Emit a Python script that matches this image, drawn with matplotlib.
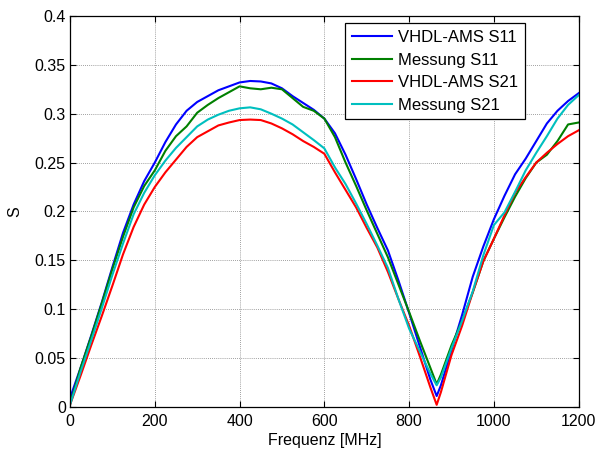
import matplotlib
matplotlib.use("Agg")
import matplotlib.pyplot as plt

plt.rcParams["font.family"] = ["Liberation Sans", "DejaVu Sans"]

# Frequency points in MHz
freq = [0, 25, 50, 75, 100, 125, 150, 175, 200, 225, 250, 275, 300, 325, 350,
        375, 400, 425, 450, 475, 500, 525, 550, 575, 600, 625, 650, 675, 700,
        725, 750, 775, 800, 825, 850, 865, 875, 900, 925, 950, 975, 1000,
        1025, 1050, 1075, 1100, 1125, 1150, 1175, 1200]

vhdl_s11 = [0.009, 0.040, 0.073, 0.107, 0.143, 0.178, 0.207, 0.231, 0.250,
            0.271, 0.289, 0.303, 0.312, 0.318, 0.324, 0.328, 0.332, 0.3335,
            0.333, 0.331, 0.326, 0.318, 0.311, 0.304, 0.295, 0.280, 0.258,
            0.233, 0.207, 0.183, 0.160, 0.129, 0.096, 0.062, 0.028, 0.011,
            0.022, 0.058, 0.094, 0.133, 0.164, 0.192, 0.216, 0.238, 0.254,
            0.272, 0.290, 0.303, 0.313, 0.321]

mess_s11 = [0.003, 0.040, 0.072, 0.106, 0.141, 0.174, 0.204, 0.226, 0.242,
            0.262, 0.277, 0.287, 0.301, 0.309, 0.316, 0.322, 0.328, 0.326,
            0.325, 0.3266, 0.325, 0.316, 0.307, 0.303, 0.295, 0.276, 0.250,
            0.226, 0.201, 0.177, 0.153, 0.125, 0.097, 0.068, 0.040, 0.023,
            0.033, 0.063, 0.088, 0.117, 0.149, 0.172, 0.194, 0.215, 0.234,
            0.250, 0.258, 0.272, 0.289, 0.291]

vhdl_s21 = [0.002, 0.032, 0.063, 0.093, 0.124, 0.156, 0.184, 0.207, 0.225,
            0.240, 0.253, 0.266, 0.276, 0.282, 0.288, 0.291, 0.2935, 0.294,
            0.2935, 0.290, 0.285, 0.279, 0.272, 0.266, 0.259, 0.240, 0.222,
            0.204, 0.183, 0.163, 0.138, 0.110, 0.083, 0.052, 0.020, 0.002,
            0.015, 0.053, 0.083, 0.117, 0.149, 0.172, 0.196, 0.219, 0.235,
            0.250, 0.260, 0.269, 0.277, 0.283]

mess_s21 = [0.002, 0.036, 0.068, 0.101, 0.135, 0.167, 0.197, 0.219, 0.237,
            0.252, 0.265, 0.276, 0.287, 0.294, 0.299, 0.303, 0.3055, 0.3065,
            0.3045, 0.300, 0.295, 0.289, 0.281, 0.273, 0.2645, 0.245, 0.228,
            0.208, 0.187, 0.165, 0.142, 0.110, 0.080, 0.057, 0.034, 0.022,
            0.030, 0.060, 0.088, 0.118, 0.155, 0.186, 0.199, 0.220, 0.242,
            0.260, 0.277, 0.295, 0.309, 0.319]

series = [
    ("VHDL-AMS S11", vhdl_s11, "#0000ff"),
    ("Messung S11", mess_s11, "#008000"),
    ("VHDL-AMS S21", vhdl_s21, "#ff0000"),
    ("Messung S21", mess_s21, "#00bfbf"),
]

fig = plt.figure(figsize=(5.97, 4.55), dpi=100)
ax = fig.add_axes([0.1173, 0.106, 0.852, 0.8588])

for label, values, color in series:
    ax.plot(freq, values, color=color, lw=1.5, label=label)

ax.set_xlim(0, 1200)
ax.set_ylim(0, 0.4)
ax.set_xticks([0, 200, 400, 600, 800, 1000, 1200])
ax.set_yticks([0, 0.05, 0.1, 0.15, 0.2, 0.25, 0.3, 0.35, 0.4])
ax.set_yticklabels(["0", "0.05", "0.1", "0.15", "0.2", "0.25", "0.3", "0.35", "0.4"])

ax.grid(True, color="#808080", linestyle=(0, (1, 1.5)), linewidth=0.6)
ax.set_axisbelow(True)
ax.tick_params(direction="in", length=4, width=0.8, top=True, right=True,
               labelsize=11.5)
ax.tick_params(axis="x", pad=5)
ax.tick_params(axis="y", pad=3)
for sp in ax.spines.values():
    sp.set_linewidth(0.9)

ax.set_xlabel("Frequenz [MHz]", fontsize=11.5, labelpad=3)
ax.set_ylabel("S", fontsize=11.5, labelpad=9)

leg = ax.legend(loc="upper right", bbox_to_anchor=(0.895, 0.981),
                borderaxespad=0, fancybox=False, framealpha=1,
                edgecolor="black", fontsize=12, handlelength=2.4,
                handletextpad=0.4, borderpad=0.4, labelspacing=0.45)
leg.get_frame().set_linewidth(0.9)

fig.savefig("out.png", dpi=100)
